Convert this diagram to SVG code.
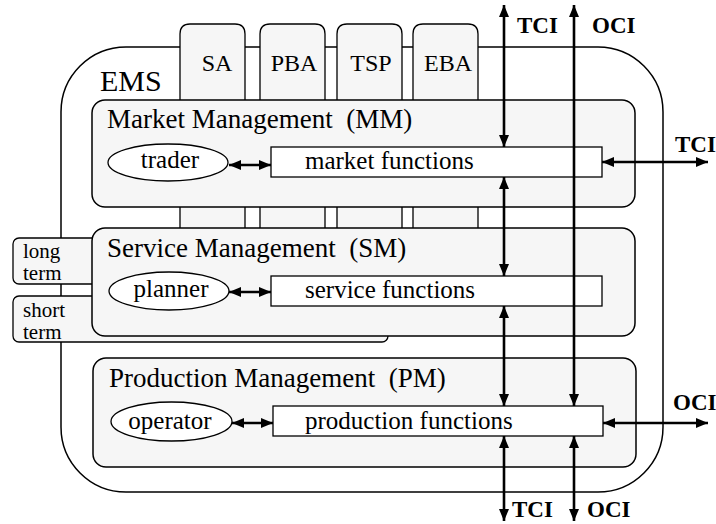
<svg xmlns="http://www.w3.org/2000/svg" width="716" height="524" viewBox="0 0 716 524">
<defs>
<marker id="ah" viewBox="0 0 12 10" refX="12" refY="5" markerWidth="12" markerHeight="10" markerUnits="userSpaceOnUse" orient="auto-start-reverse">
<path d="M0,0 L12,5 L0,10 z" fill="#000"/>
</marker>
</defs>
<style>
text{fill:#000;font-family:"Liberation Serif","Times New Roman",serif}
.t{font-size:27px}
.l{font-size:25px}
.s{font-size:24px}
.lt{font-size:21px}
.b{font-size:23px;font-weight:bold}
.e{font-size:30px}
.pane{fill:#f6f6f6;stroke:#000;stroke-width:1.5}
.tab{fill:#f6f6f6;stroke:#000;stroke-width:1.3}
.fn{fill:#fff;stroke:#000;stroke-width:1.3}
.el{fill:#fff;stroke:#000;stroke-width:1.3}
.ar{stroke:#000;stroke-width:2.6;fill:none;marker-start:url(#ah);marker-end:url(#ah)}
</style>
<rect width="716" height="524" fill="#fff"/>
<g id="ems">
<rect x="61" y="47" width="602" height="445" rx="65" ry="65" fill="#fff" stroke="#000" stroke-width="1.5"/>
<text class="e" x="100" y="91">EMS</text>
</g>
<g id="tab-sa"><path class="tab" d="M180,228 V34 Q180,24 190,24 H235 Q245,24 245,34 V228"/><text class="s" x="217" y="71" text-anchor="middle">SA</text></g>
<g id="tab-pba"><path class="tab" d="M260,228 V34 Q260,24 270,24 H315 Q325,24 325,34 V228"/><text class="s" x="294" y="71" text-anchor="middle">PBA</text></g>
<g id="tab-tsp"><path class="tab" d="M337,228 V34 Q337,24 347,24 H392 Q402,24 402,34 V228"/><text class="s" x="371" y="71" text-anchor="middle">TSP</text></g>
<g id="tab-eba"><path class="tab" d="M413,228 V34 Q413,24 423,24 H468 Q478,24 478,34 V228"/><text class="s" x="448" y="71" text-anchor="middle">EBA</text></g>
<g id="long-term">
<rect class="tab" x="13" y="238" width="120" height="46" rx="6"/>
<text class="lt" x="23" y="258">long</text>
<text class="lt" x="23" y="280">term</text>
</g>
<g id="short-term">
<rect class="tab" x="13" y="296" width="375" height="46" rx="6"/>
<text class="lt" x="23" y="317">short</text>
<text class="lt" x="23" y="339">term</text>
</g>
<g id="mm">
<rect class="pane" x="92" y="100" width="543" height="107" rx="13"/>
<text class="t" x="107" y="128" xml:space="preserve">Market Management  (MM)</text>
</g>
<g id="trader"><ellipse class="el" cx="168" cy="162.5" rx="60" ry="18.5"/><text class="l" x="170" y="168" text-anchor="middle">trader</text></g>
<g id="market-functions"><rect class="fn" x="271" y="147" width="331" height="30"/><text class="l" x="305" y="169">market functions</text></g>
<g id="sm">
<rect class="pane" x="92" y="228" width="543" height="108" rx="13"/>
<text class="t" x="107" y="257" xml:space="preserve">Service Management  (SM)</text>
</g>
<g id="planner"><ellipse class="el" cx="169" cy="291" rx="60" ry="19"/><text class="l" x="171" y="297" text-anchor="middle">planner</text></g>
<g id="service-functions"><rect class="fn" x="271" y="276" width="331" height="30"/><text class="l" x="305" y="298">service functions</text></g>
<g id="pm">
<rect class="pane" x="93" y="358" width="543" height="109" rx="13"/>
<text class="t" x="109" y="387" xml:space="preserve">Production Management  (PM)</text>
</g>
<g id="operator"><ellipse class="el" cx="171.5" cy="421.5" rx="60.5" ry="19.5"/><text class="l" x="170" y="429" text-anchor="middle">operator</text></g>
<g id="production-functions"><rect class="fn" x="273" y="406" width="330" height="30"/><text class="l" x="305" y="429">production functions</text></g>
<g id="connectors">
<line class="ar" x1="229" y1="165" x2="271" y2="165"/>
<line class="ar" x1="229" y1="292" x2="271" y2="292"/>
<line class="ar" x1="232" y1="423" x2="273" y2="423"/>
<line class="ar" x1="504" y1="5" x2="504" y2="147"/>
<line class="ar" x1="504" y1="177" x2="504" y2="276"/>
<line class="ar" x1="504" y1="306" x2="504" y2="406"/>
<line class="ar" x1="504" y1="436" x2="504" y2="521"/>
<line class="ar" x1="574" y1="5" x2="574" y2="406"/>
<line class="ar" x1="574" y1="436" x2="574" y2="521"/>
<line class="ar" x1="602" y1="162" x2="708" y2="162"/>
<line class="ar" x1="603" y1="423" x2="708" y2="423"/>
</g>
<g id="labels">
<text class="b" x="517" y="33">TCI</text>
<text class="b" x="592" y="33">OCI</text>
<text class="b" x="675" y="152">TCI</text>
<text class="b" x="673" y="410">OCI</text>
<text class="b" x="512" y="517">TCI</text>
<text class="b" x="587" y="517">OCI</text>
</g>
</svg>
